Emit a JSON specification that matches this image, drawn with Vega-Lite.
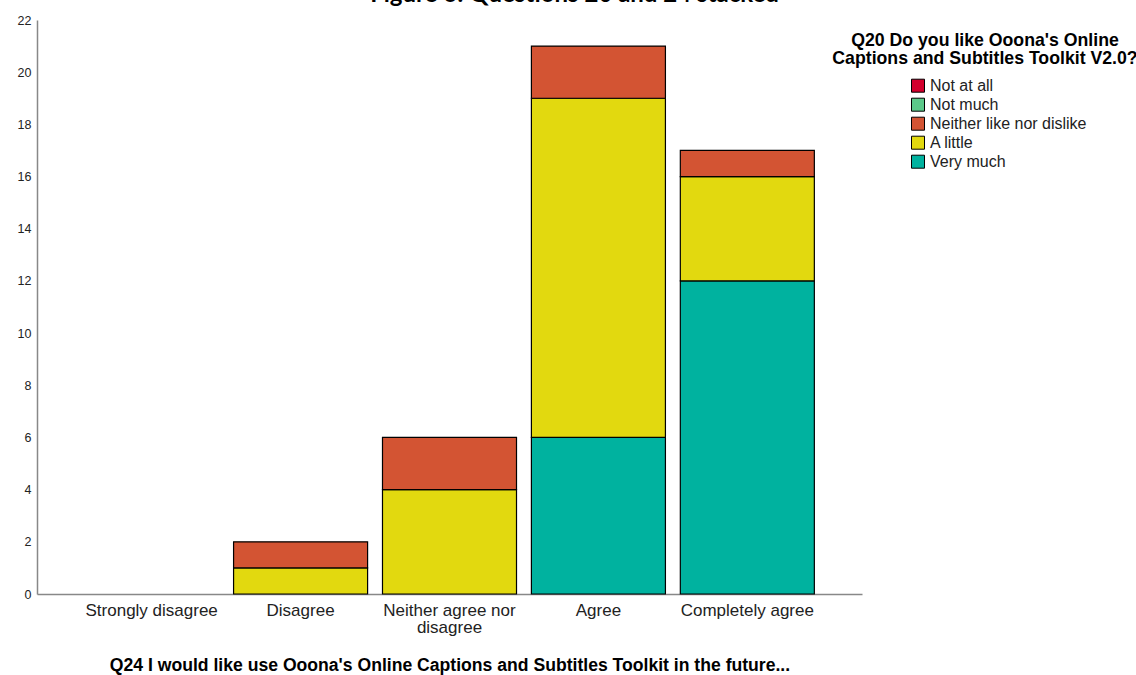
{
  "$schema": "https://vega.github.io/schema/vega-lite/v6.json",
  "width": 825,
  "height": 574,
  "autosize": {"type": "none"},
  "padding": {"left": 37, "top": 20, "right": 274, "bottom": 81},
  "background": "white",
  "title": {
    "text": "Figure 6: Questions 20 and 24 stacked",
    "font": "Lato",
    "fontSize": 24,
    "fontWeight": "bold",
    "color": "#000000",
    "anchor": "middle",
    "dx": 125,
    "offset": -12,
    "baseline": "alphabetic"
  },
  "config": {"view": {"stroke": null}},
  "data": {
    "values": [
      {"q24": "Disagree", "q20": "A little", "code": 4, "count": 1},
      {"q24": "Disagree", "q20": "Neither like nor dislike", "code": 3, "count": 1},
      {"q24": "Neither agree nor disagree", "q20": "A little", "code": 4, "count": 4},
      {"q24": "Neither agree nor disagree", "q20": "Neither like nor dislike", "code": 3, "count": 2},
      {"q24": "Agree", "q20": "Very much", "code": 5, "count": 6},
      {"q24": "Agree", "q20": "A little", "code": 4, "count": 13},
      {"q24": "Agree", "q20": "Neither like nor dislike", "code": 3, "count": 2},
      {"q24": "Completely agree", "q20": "Very much", "code": 5, "count": 12},
      {"q24": "Completely agree", "q20": "A little", "code": 4, "count": 4},
      {"q24": "Completely agree", "q20": "Neither like nor dislike", "code": 3, "count": 1}
    ]
  },
  "mark": {"type": "bar", "stroke": "#000000", "strokeWidth": 1.2},
  "encoding": {
    "x": {
      "field": "q24",
      "type": "nominal",
      "sort": ["Strongly disagree", "Disagree", "Neither agree nor disagree", "Agree", "Completely agree"],
      "scale": {
        "domain": ["Strongly disagree", "Disagree", "Neither agree nor disagree", "Agree", "Completely agree"],
        "paddingInner": 0.1,
        "paddingOuter": 0.32
      },
      "axis": {
        "title": "Q24 I would like use Ooona's Online Captions and Subtitles Toolkit in the future...",
        "titleFont": "Liberation Sans",
        "titleFontSize": 17.6,
        "titleFontWeight": "bold",
        "titleColor": "#000000",
        "titlePadding": 21,
        "labelAngle": 0,
        "labelFont": "Liberation Sans",
        "labelFontSize": 17,
        "labelColor": "#222222",
        "labelPadding": 8,
        "labelLineHeight": 17,
        "labelExpr": "datum.label == 'Neither agree nor disagree' ? ['Neither agree nor', 'disagree'] : datum.label",
        "ticks": false,
        "domainColor": "#888888",
        "domainWidth": 1.5,
        "labelLimit": 300
      }
    },
    "y": {
      "field": "count",
      "type": "quantitative",
      "stack": "zero",
      "scale": {"domain": [0, 22], "nice": false},
      "axis": {
        "title": null,
        "values": [0, 2, 4, 6, 8, 10, 12, 14, 16, 18, 20, 22],
        "ticks": false,
        "grid": false,
        "domainColor": "#888888",
        "domainWidth": 1.5,
        "labelFont": "Liberation Sans",
        "labelFontSize": 12.5,
        "labelColor": "#222222",
        "labelPadding": 6
      }
    },
    "color": {
      "field": "q20",
      "type": "nominal",
      "scale": {
        "domain": ["Not at all", "Not much", "Neither like nor dislike", "A little", "Very much"],
        "range": ["#d3002d", "#5cc98a", "#d35433", "#e2d90f", "#00b29f"]
      },
      "legend": {
        "orient": "none",
        "legendX": 795,
        "legendY": 12,
        "title": ["Q20 Do you like Ooona's Online", "Captions and Subtitles Toolkit V2.0?"],
        "titleFont": "Liberation Sans",
        "titleFontSize": 17.7,
        "titleFontWeight": "bold",
        "titleColor": "#000000",
        "titleAlign": "center",
        "titleAnchor": "middle",
        "titleLineHeight": 18,
        "titlePadding": 10,
        "titleLimit": 400,
        "symbolType": "square",
        "symbolSize": 169,
        "symbolStrokeColor": "#000000",
        "symbolStrokeWidth": 1,
        "symbolOffset": 27,
        "labelFont": "Liberation Sans",
        "labelFontSize": 16,
        "labelColor": "#222222",
        "labelOffset": 4,
        "rowPadding": 1,
        "padding": 0
      }
    },
    "order": {"field": "code", "sort": "descending"}
  }
}
